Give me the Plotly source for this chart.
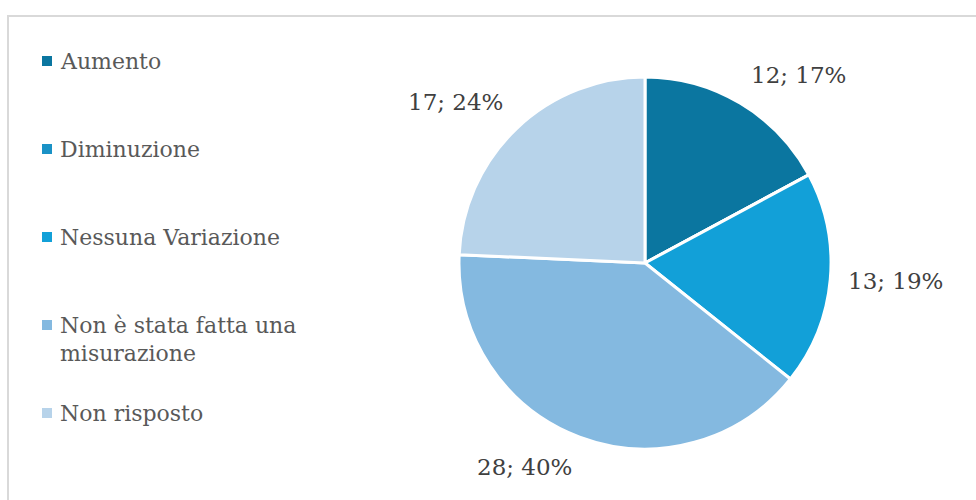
import math
import textwrap
import plotly.graph_objects as go

# Survey answers and their counts
categories = [
    "Aumento",
    "Diminuzione",
    "Nessuna Variazione",
    "Non è stata fatta una misurazione",
    "Non risposto",
]
counts = [12, 0, 13, 28, 17]
colors = ["#0b76a0", "#1a92c6", "#12a0d8", "#84b9e0", "#b7d3ea"]

W, H = 976, 500
CX, CY, R = 645, 263, 186          # pie centre and radius in pixels
FONT = "DejaVu Serif"


def px(x):
    return x / W


def py(y):
    return 1 - y / H


fig = go.Figure()

fig.add_trace(go.Pie(
    labels=categories,
    values=counts,
    sort=False,
    direction="clockwise",
    rotation=0,
    marker=dict(colors=colors, line=dict(color="white", width=3)),
    textinfo="none",
    hoverinfo="label+value+percent",
    showlegend=False,
    domain=dict(x=[px(CX - R), px(CX + R)], y=[py(CY + R), py(CY - R)]),
))

annotations = []
shapes = []

# Value labels just outside each slice; the box corner nearest the pie
# sits a short distance beyond the slice's mid-angle edge point
total = sum(counts)
cum = 0
GAP = 16
for name, v in zip(categories, counts):
    if v == 0:
        continue
    mid = (cum + v / 2) / total * 2 * math.pi
    cum += v
    dx, dy = math.sin(mid), -math.cos(mid)
    lx = CX + (R + GAP) * dx
    ly = CY + (R + GAP) * dy
    xa = "center" if abs(dx) < 0.25 else ("left" if dx > 0 else "right")
    ya = "middle" if abs(dy) < 0.25 else ("bottom" if dy < 0 else "top")
    pct = round(100 * v / total)
    annotations.append(dict(
        x=px(lx), y=py(ly), xref="paper", yref="paper",
        text=f"{v}; {pct}%", showarrow=False,
        xanchor=xa, yanchor=ya,
        font=dict(family=FONT, size=23, color="#404040"),
    ))

# Legend drawn as square swatches with wrapped labels
row_y = 61
for name, c in zip(categories, colors):
    shapes.append(dict(
        type="rect", xref="paper", yref="paper",
        x0=px(42), x1=px(52), y0=py(row_y + 5), y1=py(row_y - 5),
        fillcolor=c, line=dict(width=0),
    ))
    for i, line in enumerate(textwrap.wrap(name, 22)):
        annotations.append(dict(
            x=px(58), y=py(row_y + 28 * i), xref="paper", yref="paper",
            text=line, showarrow=False,
            xanchor="left", yanchor="middle",
            font=dict(family=FONT, size=22, color="#595959"),
        ))
    row_y += 88

# Chart area frame
shapes.append(dict(
    type="rect", xref="paper", yref="paper",
    x0=px(8), x1=1.02, y0=-0.02, y1=py(16),
    line=dict(color="#d9d9d9", width=2), fillcolor="rgba(0,0,0,0)",
    layer="below",
))

fig.update_layout(
    width=W, height=H,
    margin=dict(l=0, r=0, t=0, b=0),
    paper_bgcolor="white",
    plot_bgcolor="white",
    font=dict(family=FONT),
    annotations=annotations,
    shapes=shapes,
)

fig.write_html("out.html")
